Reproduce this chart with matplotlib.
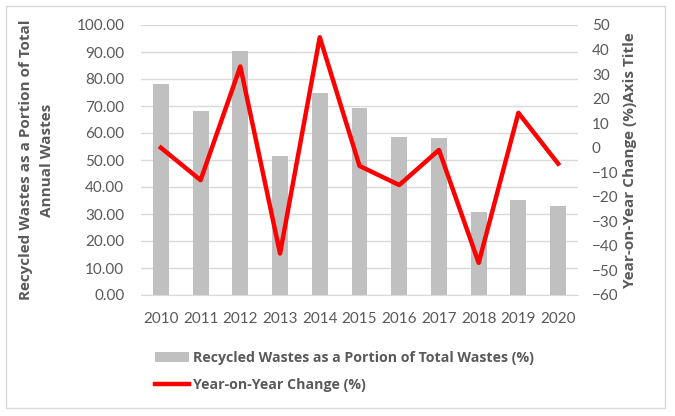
import matplotlib
matplotlib.use("Agg")
import matplotlib.pyplot as plt
from matplotlib.patches import Rectangle
import numpy as np

plt.rcParams['font.family'] = ['Lato', 'DejaVu Sans']

# data
years = ['2010', '2011', '2012', '2013', '2014', '2015', '2016', '2017', '2018', '2019', '2020']
recycled_pct = [78.3, 68.0, 90.5, 51.5, 74.7, 69.2, 58.7, 58.2, 30.9, 35.3, 33.0]
yoy_change = [0.0, -13.2, 33.1, -43.1, 45.0, -7.4, -15.2, -0.9, -46.9, 14.2, -6.5]

left_ticks = np.arange(0, 101, 10)
right_ticks = np.arange(-60, 51, 10)

grey_txt = '#595959'
bold_font = ['Open Sans', 'DejaVu Sans']
W, H = 675, 416
fig = plt.figure(figsize=(W / 100, H / 100), dpi=100)

# outer chart border like the Excel chart area
fig.patches.append(Rectangle((6 / W, 1 - 408 / H), 659 / W, 402 / H,
                             transform=fig.transFigure, fill=False,
                             edgecolor='#d9d9d9', linewidth=1))

ax = fig.add_axes([141 / W, 1 - 295 / H, 437 / W, 270 / H])
x = np.arange(len(years))
ax.bar(x, recycled_pct, width=0.4, color='#c0c0c0', zorder=2,
       label='Recycled Wastes as a Portion of Total Wastes (%)')
ax.set_ylim(0, 100)
ax.set_xlim(-0.5, len(years) - 0.5)
ax.set_yticks(left_ticks)
ax.set_yticklabels([f'{v:.2f}' for v in left_ticks])
ax.set_xticks(x)
ax.set_xticklabels(years)
ax.yaxis.grid(True, color='#d9d9d9', linewidth=1, zorder=0)
ax.set_axisbelow(True)
for s in ['top', 'left', 'right']:
    ax.spines[s].set_visible(False)
ax.spines['bottom'].set_color('#d9d9d9')
ax.tick_params(length=0, colors=grey_txt, labelsize=11)
ax.tick_params(axis='x', pad=12)
ax.tick_params(axis='y', pad=12)
ax.set_ylabel('Recycled Wastes as a Portion of Total\nAnnual Wastes',
              fontsize=11, fontweight='bold', family=bold_font,
              color=grey_txt, labelpad=16, linespacing=1.65)

ax2 = ax.twinx()
ax2.plot(x, yoy_change, color='#ff0000', linewidth=3.2, zorder=3,
         label='Year-on-Year Change (%)')
ax2.set_ylim(-60, 50)
ax2.set_yticks(right_ticks)
for s in ax2.spines.values():
    s.set_visible(False)
ax2.tick_params(length=0, colors=grey_txt, labelsize=11, pad=10)
ax2.set_ylabel('Year-on-Year Change (%)Axis Title', fontsize=11,
               fontweight='bold', family=bold_font, color=grey_txt, labelpad=3)

h1, l1 = ax.get_legend_handles_labels()
h2, l2 = ax2.get_legend_handles_labels()
leg = fig.legend(h1 + h2, l1 + l2, loc='upper left',
                 bbox_to_anchor=(142 / W, 1 - 338 / H), frameon=False,
                 ncol=1, handlelength=2.4, handletextpad=0.3, labelspacing=0.9,
                 prop={'weight': 'bold', 'size': 10.2, 'family': bold_font})
for t in leg.get_texts():
    t.set_color(grey_txt)

fig.savefig('out.png', dpi=100)
